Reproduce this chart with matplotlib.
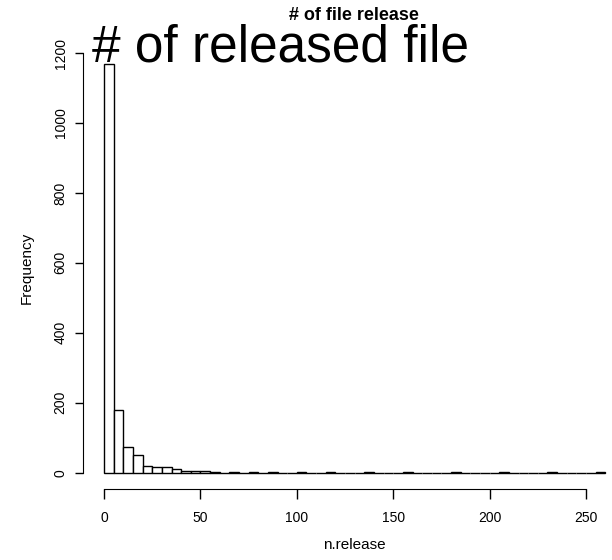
import numpy as np
import matplotlib
matplotlib.use("Agg")
import matplotlib.pyplot as plt

plt.rcParams['font.family'] = ['Liberation Sans', 'DejaVu Sans']

# histogram of n.release, bins of width 5 from 0 to 260
bin_width = 5
bin_left = np.arange(0, 260, bin_width)
counts = [1169, 180, 74, 51, 20, 15, 15, 9, 4, 4,
          4, 1, 0, 1, 0, 1, 0, 1, 0, 0,
          1, 0, 0, 1, 0, 0, 0, 1, 0, 0,
          0, 1, 0, 0, 0, 0, 1, 0, 0, 0,
          0, 1, 0, 0, 0, 0, 1, 0, 0, 0,
          0, 1]
x_ticks = [0, 50, 100, 150, 200, 250]
y_ticks = [0, 200, 400, 600, 800, 1000, 1200]

fig = plt.figure(figsize=(6.12, 5.6), dpi=100)
ax = fig.add_axes([83/612, 71/560, 542/612, 441.5/560])

ax.bar(bin_left, counts, width=bin_width, align='edge',
       facecolor='white', edgecolor='black', linewidth=1.0)

ax.set_xlim(-10.9, 270.2)
ax.set_ylim(-46.8, 1215.8)

for s in ['top', 'right']:
    ax.spines[s].set_visible(False)
ax.spines['left'].set_bounds(0, 1200)
ax.spines['bottom'].set_bounds(0, 250)

ax.set_xticks(x_ticks)
ax.set_yticks(y_ticks)
ax.set_yticklabels([str(v) for v in y_ticks], rotation=90, va='center')
ax.tick_params(axis='x', length=7, width=1, pad=9, labelsize=10)
ax.tick_params(axis='y', length=6, width=1, pad=5, labelsize=10)

ax.set_xlabel('n.release', fontsize=11)
ax.set_ylabel('Frequency', fontsize=11)
ax.xaxis.set_label_coords(0.5, -0.111)
ax.yaxis.set_label_coords(-0.090, 0.5)

fig.text(354/612, 1 - 15/560, '# of file release', ha='center', va='center',
         fontsize=13, fontweight='bold')
fig.text(92/612, 1 - 61/560, '# of released file', ha='left', va='baseline',
         fontsize=37)

fig.savefig('out.png', dpi=100)
